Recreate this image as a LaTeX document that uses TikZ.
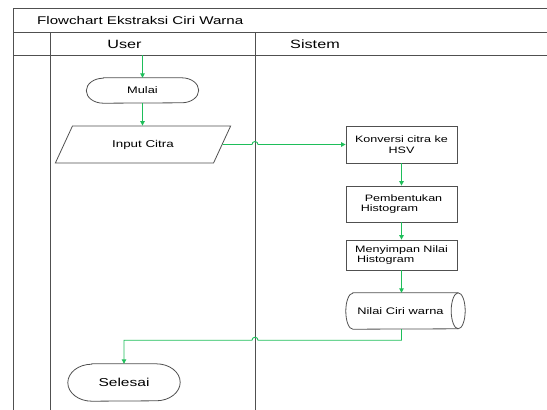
\documentclass[tikz,border=0pt]{standalone}
\usepackage{fontspec}
\setmainfont[FakeStretch=1.35]{Liberation Sans}
\usetikzlibrary{arrows.meta,shapes.geometric,calc}
\definecolor{flowgreen}{RGB}{30,190,90}
\definecolor{edgegray}{RGB}{80,80,80}
\begin{document}
\begin{tikzpicture}[x=1pt,y=-1pt,
  lane/.style={draw=edgegray, line width=0.9pt},
  procbox/.style={draw=edgegray, line width=0.8pt, minimum width=111pt, inner sep=2pt, font=\fontsize{9.3}{10.5}\selectfont},
  termtext/.style={inner sep=0pt, minimum width=112pt},
  termline/.style={draw=edgegray, line width=0.8pt},
  flow/.style={draw=flowgreen, line width=0.9pt, -{Triangle[length=4.5pt,width=4.5pt]}}
]
\useasboundingbox (0,0) rectangle (547,410);
% swimlane frame
\draw[lane] (13,410) -- (13,8) -- (547,8);
\draw[lane] (13,32) -- (547,32);
\draw[lane] (13,55) -- (547,55);
\draw[lane] (50,32) -- (50,410);
\draw[lane] (255,32) -- (255,410);
\coordinate (sep) at (255,55);
\coordinate (start) at (142.5,55);
% headings
\node[anchor=west, inner sep=0pt, font=\fontsize{11.2}{13}\selectfont] (title) at (37,20) {Flowchart Ekstraksi Ciri Warna};
\node[inner sep=0pt, font=\fontsize{12}{14}\selectfont] (user) at (124.5,44) {User};
\node[inner sep=0pt, font=\fontsize{12}{14}\selectfont] (sistem) at (315,44) {Sistem};
% terminators
\node[termtext, minimum height=25pt, font=\fontsize{9.5}{11}\selectfont] (mulai) at (142.5,90.5) {Mulai};
\draw[termline] ($(mulai.north west)+(17,0)$) -- ($(mulai.north east)+(-17,0)$)
  arc[start angle=90,end angle=-90,x radius=17pt,y radius=12.5pt]
  -- ($(mulai.south west)+(17,0)$)
  arc[start angle=270,end angle=90,x radius=17pt,y radius=12.5pt] -- cycle;
\node[termtext, minimum height=37pt, font=\fontsize{11.5}{13}\selectfont] (selesai) at (124,382.5) {Selesai};
\draw[termline] ($(selesai.north west)+(24,0)$) -- ($(selesai.north east)+(-24,0)$)
  arc[start angle=90,end angle=-90,x radius=24pt,y radius=18.5pt]
  -- ($(selesai.south west)+(24,0)$)
  arc[start angle=270,end angle=90,x radius=24pt,y radius=18.5pt] -- cycle;
% input
\node[draw=edgegray, line width=0.8pt, trapezium, trapezium left angle=51, trapezium right angle=129,
  trapezium stretches=true, minimum width=176pt, minimum height=37pt, inner sep=0pt,
  font=\fontsize{9.9}{11}\selectfont] (input) at (143,144.5) {Input Citra};
% process boxes
\node[procbox, minimum height=37pt, align=center] (konv) at (401.5,144.5) {Konversi citra ke\\HSV};
\node[procbox, minimum height=36pt, align=left] (bentuk) at (401.5,204) {\hspace{4pt}Pembentukan\\Histogram};
\node[procbox, minimum height=30pt, align=left] (simpan) at (401.5,255) {Menyimpan Nilai\\\hspace{2pt}Histogram};
% stored data
\node[inner sep=0pt, minimum width=119pt, minimum height=36pt, font=\fontsize{9.5}{11}\selectfont] (nilai) at (405.5,311) {\hspace{-10pt}Nilai Ciri warna};
\draw[termline] ($(nilai.north west)+(7,0)$) -- ($(nilai.north east)+(-7,0)$)
  arc[start angle=90,end angle=-90,x radius=7pt,y radius=18pt]
  -- ($(nilai.south west)+(7,0)$)
  arc[start angle=270,end angle=90,x radius=7pt,y radius=18pt] -- cycle;
\draw[termline] ($(nilai.north east)+(-7,0)$) arc[start angle=90,end angle=270,x radius=7pt,y radius=18pt];
% connectors
\draw[flow] (start) -- (mulai.north);
\draw[flow] (mulai.south) -- (mulai.south |- input.north);
\coordinate (jumpA) at ($(sep |- input.east)+(-3,0)$);
\draw[flow] (input.east) -- (jumpA) arc[start angle=180,end angle=0,radius=3pt] -- (konv.west);
\draw[flow] (konv.south) -- (bentuk.north);
\draw[flow] (bentuk.south) -- (simpan.north);
\draw[flow] (simpan.south) -- (simpan.south |- nilai.north);
\coordinate (turn) at ($(konv.south |- nilai.south)+(0,11)$);
\coordinate (jumpB) at ($(sep |- turn)+(3,0)$);
\draw[flow] (konv.south |- nilai.south) -- (turn) -- (jumpB) arc[start angle=0,end angle=180,radius=3pt]
  -- (selesai.north |- turn) -- (selesai.north);
\end{tikzpicture}
\end{document}
